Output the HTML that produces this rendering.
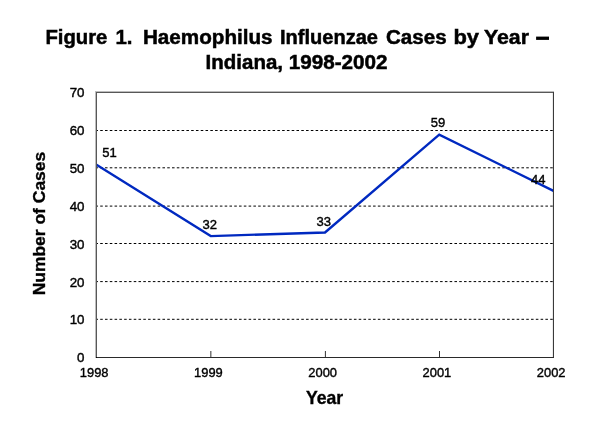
<!DOCTYPE html>
<html>
<head>
<meta charset="utf-8">
<title>Figure 1. Haemophilus Influenzae Cases by Year - Indiana, 1998-2002</title>
<style>
html,body{margin:0;padding:0;background:#fff;}
body{width:600px;height:429px;overflow:hidden;position:relative;font-family:"Liberation Sans",sans-serif;color:#000;}
svg{position:absolute;left:0;top:0;display:block;}
text{font-family:"Liberation Sans",sans-serif;fill:#000;filter:grayscale(1);}
.t{font-weight:bold;font-size:20.3px;stroke:#000;stroke-width:0.5px;}
.a{font-weight:bold;font-size:17.33px;stroke:#000;stroke-width:0.35px;}
.l{font-size:13.6px;stroke:#000;stroke-width:0.4px;}
</style>
</head>
<body>
<svg width="600" height="429" viewBox="0 0 600 429">
  <rect x="0" y="0" width="600" height="429" fill="#fff"/>
  <!-- gridlines -->
  <g stroke="#000" stroke-width="1" stroke-dasharray="2.55 2.237" stroke-dashoffset="1.575" fill="none">
    <line x1="97" x2="553" y1="130.5" y2="130.5"/>
    <line x1="97" x2="553" y1="167.8" y2="167.8"/>
    <line x1="97" x2="553" y1="206.1" y2="206.1"/>
    <line x1="97" x2="553" y1="243.5" y2="243.5"/>
    <line x1="97" x2="553" y1="281.6" y2="281.6"/>
    <line x1="97" x2="553" y1="319.3" y2="319.3"/>
  </g>
  <!-- plot border -->
  <line x1="95" x2="554" y1="91.5" y2="91.5" stroke="#bcbcbc" stroke-width="1"/>
  <line x1="95.5" x2="95.5" y1="91" y2="358" stroke="#bcbcbc" stroke-width="1"/>
  <line x1="96" x2="554" y1="92.5" y2="92.5" stroke="#585858" stroke-width="1"/>
  <rect x="96" y="92" width="1" height="1" fill="#222"/>
  <!-- ticks -->
  <g stroke="#333" stroke-width="1">
    <line x1="210.85" x2="210.85" y1="351" y2="357"/>
    <line x1="325.4" x2="325.4" y1="351" y2="357"/>
    <line x1="439.5" x2="439.5" y1="351" y2="357"/>
  </g>
  <!-- data line -->
  <polyline points="96.5,164.8 210.75,236.1 325,232.5 439.25,134.6 553.5,190.9" fill="none" stroke="#0029c0" stroke-width="2.35" stroke-linejoin="miter"/>
  <!-- right/bottom axes on top -->
  <line x1="96.5" x2="96.5" y1="92" y2="358" stroke="#585858" stroke-width="1"/>
  <line x1="552.5" x2="552.5" y1="93" y2="357" stroke="#000" stroke-opacity="0.08" stroke-width="1"/>
  <line x1="553.5" x2="553.5" y1="92" y2="358" stroke="#3a3a3a" stroke-width="1"/>
  <line x1="96" x2="554" y1="357.5" y2="357.5" stroke="#2a2a2a" stroke-width="1"/>
  <rect x="96" y="357" width="1" height="1" fill="#000"/>
  <!-- title -->
  <g class="t">
    <text x="45.4" y="43.8" textLength="62.0" lengthAdjust="spacingAndGlyphs">Figure</text>
    <text x="115.4" y="43.8" textLength="17.0" lengthAdjust="spacingAndGlyphs">1.</text>
    <text x="142.9" y="43.8" textLength="129.7" lengthAdjust="spacingAndGlyphs">Haemophilus</text>
    <text x="280.0" y="43.8" textLength="98.0" lengthAdjust="spacingAndGlyphs">Influenzae</text>
    <text x="386.0" y="43.8" textLength="60.6" lengthAdjust="spacingAndGlyphs">Cases</text>
    <text x="453.4" y="43.8" textLength="25.6" lengthAdjust="spacingAndGlyphs">by</text>
    <text x="484.0" y="43.8" textLength="45.0" lengthAdjust="spacingAndGlyphs">Year</text>
    <rect x="536.1" y="36.6" width="12.9" height="3.3" fill="#000" stroke="none"/>
    <text x="205.6" y="69.2" textLength="77.4" lengthAdjust="spacingAndGlyphs">Indiana,</text>
    <text x="288.7" y="69.2" textLength="98.9" lengthAdjust="spacingAndGlyphs">1998-2002</text>
  </g>
  <!-- y labels -->
  <g class="l">
    <text x="69.67" y="97.0" textLength="14.83" lengthAdjust="spacingAndGlyphs">70</text>
    <text x="69.67" y="135.2" textLength="14.83" lengthAdjust="spacingAndGlyphs">60</text>
    <text x="69.67" y="172.9" textLength="14.83" lengthAdjust="spacingAndGlyphs">50</text>
    <text x="69.67" y="211.0" textLength="14.83" lengthAdjust="spacingAndGlyphs">40</text>
    <text x="69.67" y="248.7" textLength="14.83" lengthAdjust="spacingAndGlyphs">30</text>
    <text x="69.67" y="286.5" textLength="14.83" lengthAdjust="spacingAndGlyphs">20</text>
    <text x="69.67" y="324.4" textLength="14.83" lengthAdjust="spacingAndGlyphs">10</text>
    <text x="77.09" y="362.4" textLength="7.41" lengthAdjust="spacingAndGlyphs">0</text>
  </g>
  <!-- x labels -->
  <g class="l">
    <text x="79.82" y="377.4" textLength="28.7" lengthAdjust="spacingAndGlyphs">1998</text>
    <text x="194.07" y="377.4" textLength="28.7" lengthAdjust="spacingAndGlyphs">1999</text>
    <text x="308.32" y="377.4" textLength="28.7" lengthAdjust="spacingAndGlyphs">2000</text>
    <text x="422.57" y="377.4" textLength="28.7" lengthAdjust="spacingAndGlyphs">2001</text>
    <text x="536.82" y="377.4" textLength="28.7" lengthAdjust="spacingAndGlyphs">2002</text>
  </g>
  <!-- data labels -->
  <g class="l">
    <text x="102.15" y="156.9" textLength="14.5" lengthAdjust="spacingAndGlyphs">51</text>
    <text x="202.5" y="229.4" textLength="14.5" lengthAdjust="spacingAndGlyphs">32</text>
    <text x="316.5" y="225.5" textLength="14.5" lengthAdjust="spacingAndGlyphs">33</text>
    <text x="430.75" y="126.8" textLength="14.5" lengthAdjust="spacingAndGlyphs">59</text>
    <text x="530.9" y="184.2" textLength="14.5" lengthAdjust="spacingAndGlyphs">44</text>
  </g>
  <!-- axis titles -->
  <text class="a" x="305.9" y="403.8" id="xt" style="font-size:17.8px" textLength="37.3" lengthAdjust="spacingAndGlyphs">Year</text>
  <text class="a" id="yt" transform="translate(45.2,295.3) rotate(-90)" textLength="143.5" lengthAdjust="spacingAndGlyphs">Number of Cases</text>
</svg>
</body>
</html>
